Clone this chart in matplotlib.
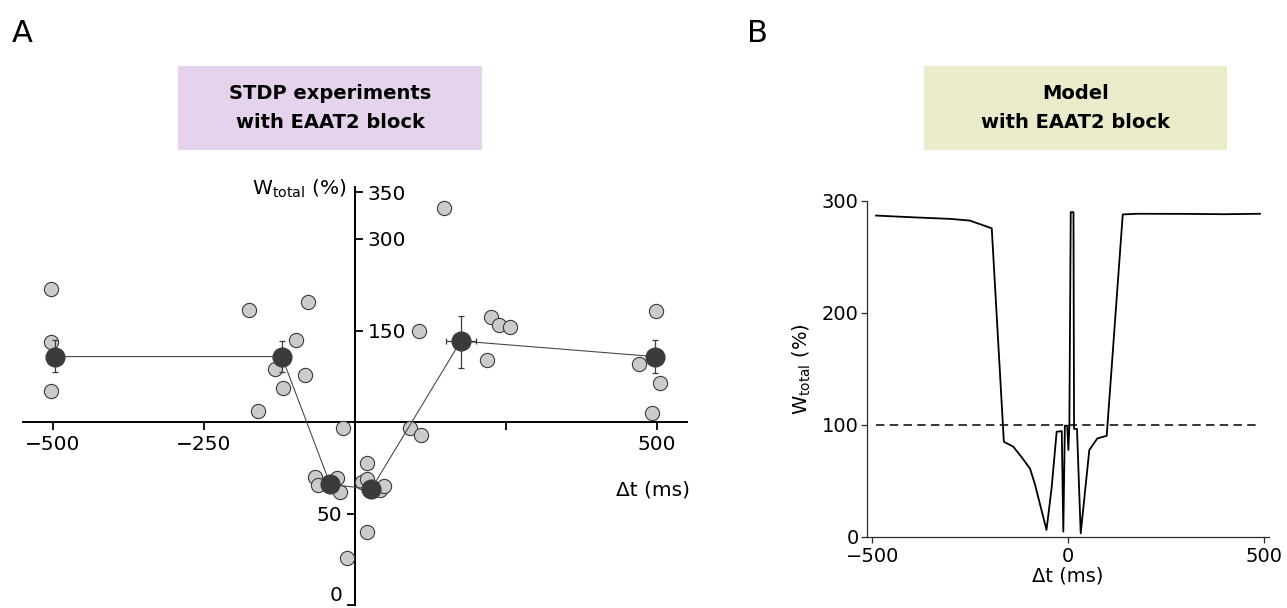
import numpy as np
import matplotlib
matplotlib.use("Agg")
import matplotlib.pyplot as plt
from matplotlib.patches import Rectangle

plt.rcParams["font.family"] = "DejaVu Sans"
plt.rcParams["mathtext.default"] = "regular"

# ---------------- Panel A: STDP experiments with EAAT2 block ----------------
# individual cells: spike timing (ms) and total weight change (%)
cell_dt = [-503, -503, -503, -175, -78, -98, -132, -83, -119, -160, -20,
           -66, -61, -30, -25, 12, 20, 41, 48, 20, 20, -13,
           147, 106, 225, 238, 256, 218, 498, 470, 505, 491, 91, 109]
cell_w = [218, 144, 117, 184, 197, 145, 129, 126, 119, 106, 97,
          70, 65.7, 69.5, 62, 67.3, 69, 63, 65, 77.7, 40, 25.7,
          333, 150.6, 173, 160, 157, 134, 183, 132, 121.5, 105, 97, 93]

# group means with errors
mean_dt = [-496, -121, -41, 27, 175, 496]
mean_w = [136, 136, 66, 63.5, 144.5, 136]
mean_w_err_lo = [8.7, 8.5, 1.6, 1.0, 14.5, 9.0]
mean_w_err_hi = [9.3, 8.5, 1.6, 1.0, 30.0, 9.0]
mean_dt_err = [0, 0, 0, 0, 24.5, 0]

a_xticks = [-500, -250, 250, 500]
a_xticklabels = ["\u2212500", "\u2212250", "", "500"]
a_yticks = [0, 50, 150, 300, 350]

# ---------------- Panel B: model with EAAT2 block ----------------
model_dt = [-491, -400, -300, -251, -195, -164, -140, -118, -97, -84, -55, -42,
            -29, -16, -12, -8, -2, 1, 3.5, 7, 14, 15.5, 23, 32.5, 54.5, 75,
            99, 140, 176, 300, 400, 491]
model_w = [287, 285.5, 284, 282.5, 275.6, 85, 80.7, 71, 61, 46.4, 6.3, 43.5,
           94, 94.5, 4.8, 99.4, 99.4, 77.7, 99.4, 290, 290, 96.5, 96.5, 3.3, 77.7, 88,
           90.4, 288, 288.6, 288.5, 288.2, 288.6]

b_xticks = [-500, 0, 500]
b_yticks = [0, 100, 200, 300]

W, H = 1287, 608
fig = plt.figure(figsize=(W / 100, H / 100), dpi=100)

# ---------- Panel A axes ----------
# piecewise-linear vertical scale (expanded below 150 %, compressed above)
y_break = np.array([-1000.0, 0.0, 150.0, 300.0, 350.0, 2000.0])
y_disp = np.array([-1827.0, 0.0, 274.0, 366.0, 413.0, 413.0 + 1650 * 0.94])


def y_fwd(v):
    return np.interp(v, y_break, y_disp)


def y_inv(d):
    return np.interp(d, y_disp, y_break)


axA = fig.add_axes([22.6 / W, 3 / H, 664.8 / W, 417.7 / H])
axA.set_yscale("function", functions=(y_fwd, y_inv))
axA.set_xlim(-550, 550)
axA.set_ylim(0, 355)

axA.scatter(cell_dt, cell_w, s=105, facecolor="#cbcbcb", edgecolor="#3a3a3a",
            linewidth=0.8, zorder=3)
axA.plot(mean_dt, mean_w, color="#4a4a4a", lw=0.8, zorder=4)
axA.errorbar(mean_dt, mean_w, yerr=[mean_w_err_lo, mean_w_err_hi], xerr=mean_dt_err,
             fmt="o", ms=13.5, mfc="#3b3b3b", mec="#3b3b3b", ecolor="#3b3b3b",
             elinewidth=0.9, capsize=2.5, capthick=0.9, zorder=5)

axA.spines["top"].set_visible(False)
axA.spines["left"].set_position(("data", 0))
axA.spines["right"].set_position(("data", 0))
axA.spines["bottom"].set_position(("data", 100))
for s in ["left", "right", "bottom"]:
    axA.spines[s].set_linewidth(1.4)
    axA.spines[s].set_color("black")

axA.set_xticks(a_xticks)
axA.set_xticklabels(a_xticklabels)
axA.set_yticks(a_yticks)
axA.set_yticklabels([str(v) for v in a_yticks])
axA.yaxis.set_minor_locator(matplotlib.ticker.NullLocator())
axA.tick_params(axis="both", labelsize=14.5, length=6, width=1.3, direction="out",
                color="black", pad=3)
axA.tick_params(axis="y", left=True, right=True, labelleft=True, labelright=True)

axA.set_xlabel("\u0394t (ms)", fontsize=14.5, ha="right", va="baseline")
axA.xaxis.set_label_coords(554, 60, transform=axA.transData)
axA.set_ylabel(r"W$_{total}$ (%)", fontsize=14.5, rotation=0, ha="right", va="baseline")
axA.yaxis.set_label_coords(-15, 347, transform=axA.transData)

# lower ticks labelled on the left of the axis, upper ones on the right
for t, v in zip(axA.yaxis.get_major_ticks(), a_yticks):
    low = v < 100
    t.tick1line.set_visible(low)
    t.label1.set_visible(low)
    t.tick2line.set_visible(not low)
    t.label2.set_visible(not low)
    if v == 0:
        t.label1.set_verticalalignment("bottom")

# ---------- Panel B axes ----------
axB = fig.add_axes([867 / W, 71 / H, 402 / W, 336 / H])
axB.plot(model_dt, model_w, color="black", lw=1.3, zorder=3)
axB.plot([-491, 491], [100, 100], color="black", lw=1.1, ls=(0, (5.5, 3.5)), zorder=2)
axB.set_xlim(-514, 514)
axB.set_ylim(0, 300)
axB.set_xticks(b_xticks)
axB.set_xticklabels(["\u2212500", "0", "500"])
axB.set_yticks(b_yticks)
for s in ["top", "right"]:
    axB.spines[s].set_visible(False)
for s in ["left", "bottom"]:
    axB.spines[s].set_linewidth(0.9)
    axB.spines[s].set_color("#2a2a2a")
axB.tick_params(axis="both", labelsize=14, length=4, width=0.9, color="#2a2a2a")
axB.tick_params(axis="x", pad=3.5)
axB.tick_params(axis="y", pad=2)
axB.set_xlabel("\u0394t (ms)", fontsize=14, labelpad=0)
axB.set_ylabel(r"W$_{total}$ (%)", fontsize=14, labelpad=6)

# ---------- title boxes and panel letters ----------
def title_box(x0, x1, color, text):
    fig.patches.append(Rectangle((x0 / W, 1 - 150 / H), (x1 - x0) / W, 84 / H,
                                 transform=fig.transFigure, facecolor=color,
                                 edgecolor="none", zorder=0))
    fig.text((x0 + x1) / 2 / W, 1 - 108 / H, text, ha="center", va="center",
             fontsize=14, fontweight="bold", linespacing=1.65)


title_box(178, 482, "#e5d3ee", "STDP experiments\nwith EAAT2 block")
title_box(924, 1227, "#e9ebcb", "Model\nwith EAAT2 block")

fig.text(12 / W, 1 - 42 / H, "A", fontsize=22, va="baseline", ha="left")
fig.text(747 / W, 1 - 42 / H, "B", fontsize=22, va="baseline", ha="left")

fig.savefig("out.png", dpi=100)
